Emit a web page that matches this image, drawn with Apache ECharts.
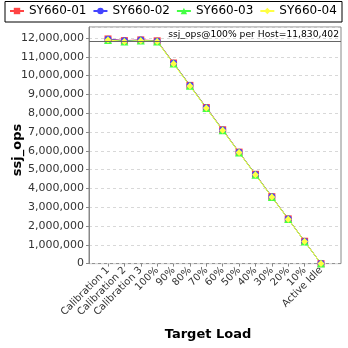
<!DOCTYPE html>
<html><head><meta charset="utf-8">
<script src="https://cdn.jsdelivr.net/npm/echarts@6/dist/echarts.min.js"></script>
<style>html,body{margin:0;padding:0;background:#fff}#c{width:348px;height:348px}</style>
</head><body><div id="c"></div>
<script>
const categories = ['Calibration 1','Calibration 2','Calibration 3','100%','90%','80%','70%','60%','50%','40%','30%','20%','10%','Active Idle'];
const seriesNames = ['SY660-01','SY660-02','SY660-03','SY660-04'];
const s1 = [11950000,11860000,11900000,11850000,10670000,9480000,8300000,7120000,5930000,4750000,3560000,2380000,1190000,0];
const s2 = [11930000,11850000,11890000,11830000,10660000,9470000,8290000,7110000,5920000,4740000,3550000,2370000,1180000,0];
const s3 = [11900000,11820000,11870000,11820000,10640000,9460000,8270000,7090000,5910000,4730000,3540000,2370000,1180000,0];
const s4 = [11890000,11810000,11860000,11820000,10630000,9450000,8270000,7090000,5910000,4720000,3540000,2360000,1180000,0];
const seriesData = [s1,s2,s3,s4];
const colors = ['#ff4444','#4444ff','#44ff44','#ffff44'];
const symbols = ['rect','circle','triangle','diamond'];
const refValue = 11830402;
const refLabel = 'ssj_ops@100% per Host=11,830,402';
const yMax = 12585000;
const yInterval = 1000000;

const FONT = 'DejaVu Sans';
const chart = echarts.init(document.getElementById('c'), null, {renderer:'canvas'});
const gTop = 27, gH = 236.6;
const option = {
  animation: false,
  textStyle: {fontFamily: FONT},
  legend: {
    data: seriesNames, left: 9, top: 5, itemWidth: 14, itemHeight: 8, itemGap: 6,
    padding: 0,
    textStyle: {fontSize: 12, color: '#000', fontFamily: FONT}
  },
  grid: [
    {left: 89, top: gTop, width: 252, height: gH, show: true, borderColor: '#888', borderWidth: 1, backgroundColor: '#fff', containLabel: false},
    {left: 108, top: gTop, width: 213, height: gH, containLabel: false}
  ],
  xAxis: [
    {gridIndex: 0, type: 'value', min: 0, max: 1, show: false},
    {gridIndex: 1, type: 'category', data: categories, boundaryGap: false,
     axisLine: {show: false},
     axisTick: {show: true, length: 3, alignWithLabel: true, lineStyle: {color: '#888'}},
     axisLabel: {rotate: 45, interval: 0, fontSize: 10, color: '#333', margin: 5, fontFamily: FONT},
     splitLine: {show: false}}
  ],
  yAxis: [
    {gridIndex: 0, type: 'value', min: 0, max: yMax, interval: yInterval,
     axisLine: {show: true, lineStyle: {color: '#888'}},
     axisTick: {show: true, length: 3, lineStyle: {color: '#888'}},
     axisLabel: {fontSize: 11, color: '#333', margin: 5, showMaxLabel: false, fontFamily: FONT,
       formatter: v => v.toLocaleString('en-US')},
     splitLine: {show: true, lineStyle: {color: '#d8d8d8', type: [3,3], width: 1}}},
    {gridIndex: 1, type: 'value', min: 0, max: yMax, show: false}
  ],
  series: [
    {type: 'line', xAxisIndex: 0, yAxisIndex: 0, data: [], silent: true,
     markLine: {symbol: 'none', silent: true, animation: false,
       lineStyle: {color: '#666', width: 1, type: 'solid'},
       label: {position: 'insideEndTop', formatter: refLabel, color: '#000', fontSize: 9.2, fontFamily: FONT, distance: 2},
       data: [{yAxis: refValue}]}}
  ].concat(seriesNames.map((n, i) => ({
    name: n, type: 'line', xAxisIndex: 1, yAxisIndex: 1, data: seriesData[i],
    symbol: symbols[i], symbolSize: i === 2 ? 8 : 7, showAllSymbol: true,
    itemStyle: {color: colors[i]}, lineStyle: {color: colors[i], width: 1}
  }))),
  graphic: [
    {type: 'rect', shape: {x: 5, y: 1.5, width: 337, height: 20.5}, style: {fill: 'none', stroke: '#000', lineWidth: 1}, z: 100},
    {type: 'text', x: 18, y: 150, rotation: Math.PI/2, style: {text: 'ssj_ops', font: 'bold 13px "DejaVu Sans"', fill: '#000', textAlign: 'center', textVerticalAlign: 'middle'}},
    {type: 'text', x: 208, y: 335, style: {text: 'Target Load', font: 'bold 13px "DejaVu Sans"', fill: '#000', textAlign: 'center', textVerticalAlign: 'middle'}}
  ]
};
chart.setOption(option);
</script></body></html>
